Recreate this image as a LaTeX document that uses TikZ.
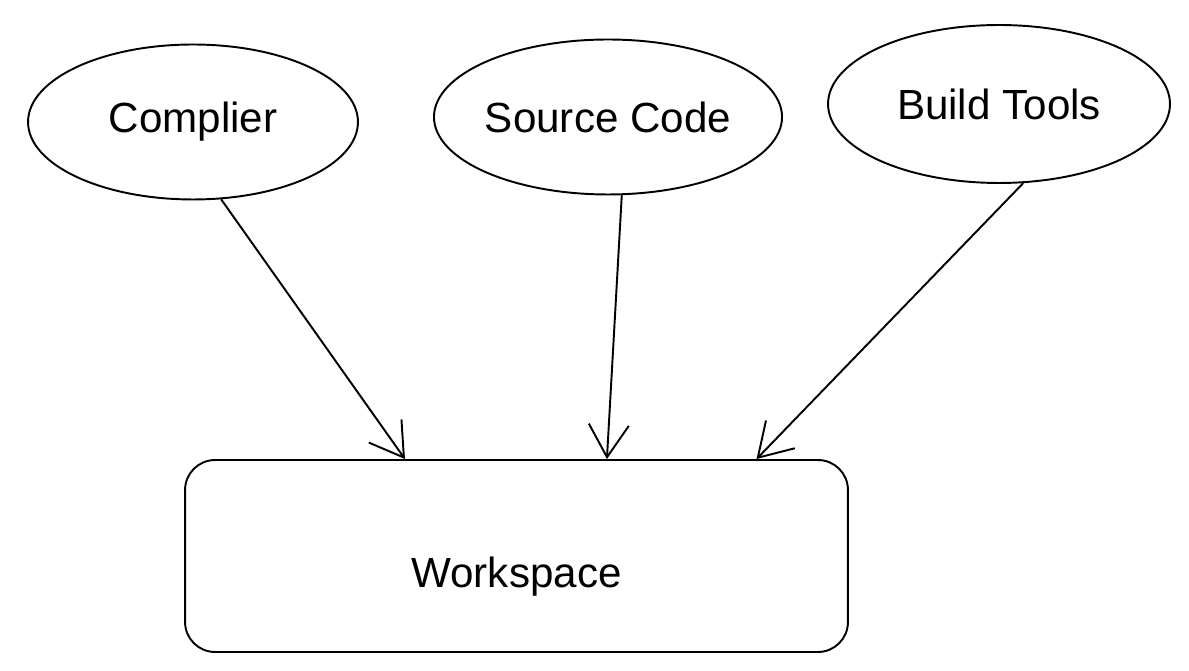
\documentclass[tikz,border=0pt]{standalone}
\usepackage{fontspec}
\setmainfont{Liberation Sans}
\usetikzlibrary{shapes.geometric,arrows.meta}
\begin{document}
\begin{tikzpicture}[x=0.02cm,y=-0.02cm,
  bubble/.style={ellipse,draw,line width=1.1pt,inner sep=0pt,font=\fontsize{24}{28}\selectfont},
  box/.style={draw,line width=1.1pt,rounded corners=0.6cm,minimum width=13.26cm,minimum height=3.84cm,
    font=\fontsize{24}{28}\selectfont,text height=1.25cm,text depth=0cm},
  feed/.style={line width=1.1pt,-{Straight Barb[length=0.65cm,width=0.8cm]}}]
  \useasboundingbox (0,0) rectangle (1189,671);
  \node[bubble,minimum width=6.6cm,minimum height=3.1cm] (comp) at (193,122) {Complier};
  \node[bubble,minimum width=6.78cm,minimum height=3.1cm] (src) at (608,117) {Source Code};
  \node[bubble,minimum width=6.84cm,minimum height=3.16cm] (build) at (999,104) {Build Tools};
  \node[box] (ws) at (516.5,556) {Workspace};
  \draw[feed] (comp.-70) -- (ws.139);
  \draw[feed] (src.-80) -- (ws.47);
  \draw[feed] (build.-73) -- (ws.22);
\end{tikzpicture}
\end{document}
